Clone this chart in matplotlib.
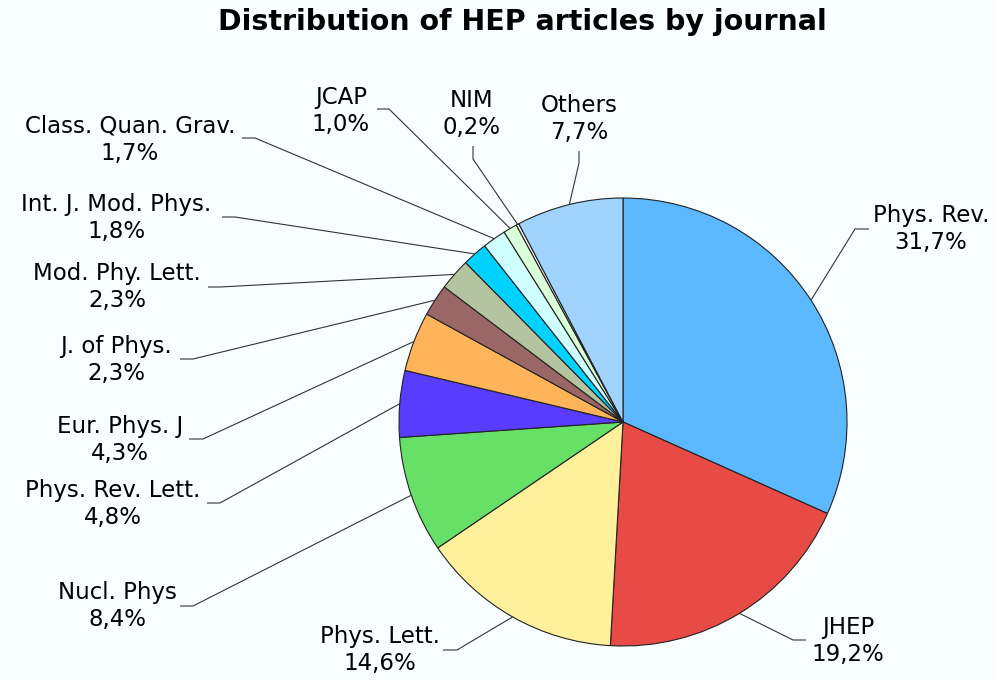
import numpy as np
import matplotlib.pyplot as plt

journals = ["Phys. Rev.", "JHEP", "Phys. Lett.", "Nucl. Phys", "Phys. Rev. Lett.",
            "Eur. Phys. J", "J. of Phys.", "Mod. Phy. Lett.", "Int. J. Mod. Phys.",
            "Class. Quan. Grav.", "JCAP", "NIM", "Others"]
shares = [31.7, 19.2, 14.6, 8.4, 4.8, 4.3, 2.3, 2.3, 1.8, 1.7, 1.0, 0.2, 7.7]
colors = ["#5CB8FF", "#E84A45", "#FFF19C", "#66E066", "#5A3CFF", "#FFB45A",
          "#9A6666", "#B4C4A0", "#00D2FF", "#D0FFFF", "#D8FFD8", "#FFFFFF", "#A0D4FF"]

# label layout in pixels (from top-left): text centre, elbow of leader, end of leader
label_layout = [
    ((931, 229), (855, 229), (869, 229)),
    ((848, 641), (793, 640), (806, 640)),
    ((380, 650), (457, 650), (443, 650)),
    ((117, 606), (193, 606), (180, 606)),
    ((113, 504), (220, 503), (207, 503)),
    ((120, 440), (203, 439), (189, 439)),
    ((116, 360), (193, 359), (180, 359)),
    ((117, 287), (220, 287), (208, 287)),
    ((116, 218), (235, 217), (222, 217)),
    ((130, 140), (255, 138), (242, 138)),
    ((341, 111), (389, 109), (377, 109)),
    ((472, 114), (473, 159), (473, 146)),
    ((579, 119), (579, 163), (579, 151)),
]

W, H = 994, 680
bg = "#F8FEFF"


def py(y):
    return H - y


fig = plt.figure(figsize=(W / 100, H / 100), dpi=100, facecolor=bg)
ax = fig.add_axes([0, 0, 1, 1])
ax.set_facecolor(bg)

cx, cy, R = 623, py(422), 224
wedges, _ = ax.pie(shares, colors=colors, startangle=90, counterclock=False,
                   center=(cx, cy), radius=R,
                   wedgeprops={"edgecolor": "#222222", "linewidth": 0.8})

for w, name, val, (txt, elbow, end) in zip(wedges, journals, shares, label_layout):
    ang = np.deg2rad((w.theta1 + w.theta2) / 2)
    x0, y0 = cx + R * np.cos(ang), cy + R * np.sin(ang)
    ax.plot([x0, elbow[0], end[0]], [y0, py(elbow[1]), py(end[1])],
            color="#333333", lw=0.8, solid_capstyle="butt")
    ax.text(txt[0], py(txt[1]), "{}\n{}%".format(name, str(val).replace(".", ",")),
            ha="center", va="center", fontsize=16.5, linespacing=1.25, color="black")

ax.text(522, py(22), "Distribution of HEP articles by journal", ha="center", va="center",
        fontsize=20.5, fontweight="bold", color="black")

ax.set_xlim(0, W)
ax.set_ylim(0, H)
ax.set_aspect("equal")
ax.axis("off")

fig.savefig("out.png", dpi=100, facecolor=bg)
